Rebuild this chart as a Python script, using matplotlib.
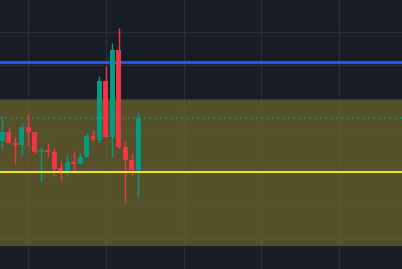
import matplotlib
matplotlib.use("Agg")
import matplotlib.pyplot as plt
from matplotlib.patches import Rectangle

# candle data (arbitrary price units)
opens  = [1.273, 1.370, 1.260, 1.233, 1.420, 1.370, 1.163, 1.190, 1.170, 1.010, 0.980,
          1.070, 1.053, 1.113, 1.330, 1.283, 1.880, 1.313, 2.190, 1.220, 1.090, 0.993]
highs  = [1.517, 1.420, 1.320, 1.460, 1.550, 1.370, 1.220, 1.260, 1.210, 1.080, 1.140,
          1.180, 1.160, 1.360, 1.390, 1.930, 2.030, 2.260, 2.410, 1.280, 1.160, 1.570]
lows   = [1.183, 1.253, 1.053, 1.133, 1.223, 1.150, 0.883, 1.113, 0.933, 0.893, 0.933,
          0.983, 1.053, 1.113, 1.283, 1.263, 1.313, 1.113, 1.203, 0.673, 0.943, 0.713]
closes = [1.370, 1.253, 1.233, 1.420, 1.363, 1.163, 1.190, 1.163, 1.003, 0.980, 1.070,
          1.053, 1.120, 1.330, 1.283, 1.880, 1.313, 2.190, 1.213, 1.083, 0.993, 1.510]

blue_level = 2.063
dotted_level = 1.507
yellow_level = 0.967
zone_top = 1.697
zone_bottom = 0.233
grid_prices = [2.367, 2.037, 1.357, 1.007, 0.667, 0.307]
grid_bars = [4, 16, 28, 40, 52]

bg = "#181c27"
grid_col = "#2a2e39"
up_col = "#089981"
down_col = "#f23645"

fig = plt.figure(figsize=(4.025, 2.695), dpi=100)
fig.patch.set_facecolor(bg)
ax = fig.add_axes([0, 0, 1, 1])
ax.set_facecolor(bg)
ax.set_xlim(-0.356, 61.78)
ax.set_ylim(0, 2.69)
ax.axis("off")

for g in grid_prices:
    ax.axhline(g, color=grid_col, lw=1, zorder=1)
for g in grid_bars:
    ax.axvline(g, color=grid_col, lw=1, zorder=1)

# zone
ax.axhspan(zone_bottom, zone_top, color="#6b622c", alpha=0.75, lw=0, zorder=2)
ax.axhline(zone_top, color="#3a3a30", lw=1, zorder=2)

ax.axhline(blue_level, color="#2962ff", lw=1.8, zorder=3)
ax.axhline(dotted_level, color=up_col, lw=1.2, ls=(0, (1, 2.2)), zorder=3)

w = 0.77
for i in range(len(opens)):
    o, h, l, c = opens[i], highs[i], lows[i], closes[i]
    col = up_col if c >= o else down_col
    ax.plot([i, i], [l, h], color=col, lw=1, zorder=4, solid_capstyle="butt")
    ax.add_patch(Rectangle((i - w / 2, min(o, c)), w, max(abs(c - o), 0.01),
                           facecolor=col, edgecolor="none", zorder=5))

ax.axhline(yellow_level, color="#f5e82a", lw=1.4, zorder=6)

fig.savefig("out.png", dpi=100, facecolor=bg)
